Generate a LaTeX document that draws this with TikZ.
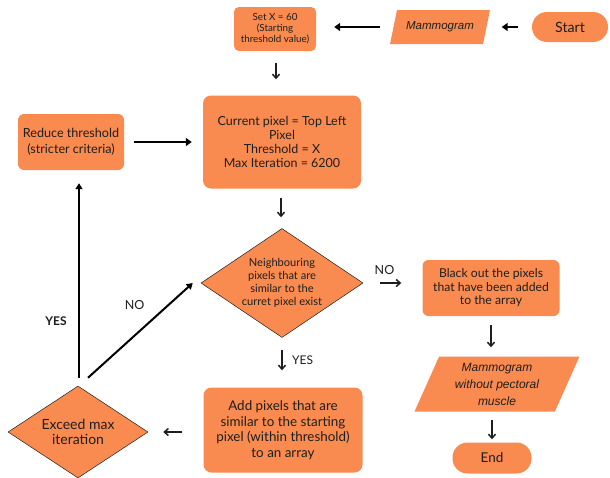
\documentclass[tikz,border=0pt]{standalone}
\usepackage{fontspec}
\setmainfont{Lato}
\newfontfamily\itfont{Liberation Sans}
\usetikzlibrary{shapes.geometric,arrows.meta}
\definecolor{boxorange}{HTML}{F98B50}
\definecolor{ink}{HTML}{1E1E1E}
\tikzset{
  proc/.style={fill=boxorange, rounded corners=6pt, inner sep=0pt, text=ink, align=center},
  pill/.style={fill=boxorange, rounded corners=15pt, inner sep=0pt, text=ink},
  io/.style={trapezium, trapezium left angle=68, trapezium right angle=112, trapezium stretches=true, fill=boxorange, inner sep=2pt, text=ink, align=center},
  dec/.style={diamond, fill=boxorange, draw=ink, line width=0.5pt, inner sep=1pt},
  lbl/.style={text=ink, align=center},
  bold arrow/.style={draw=black, line width=2.4pt, -{Triangle[length=6pt,width=8pt]}},
  thin arrow/.style={draw=ink, line width=1.5pt, -{Straight Barb[length=4pt,width=7pt]}},
  mid arrow/.style={draw=black, line width=2pt, -{Triangle[length=6pt,width=7pt]}},
}
\begin{document}
\begin{tikzpicture}[x=1pt,y=-1pt]
\useasboundingbox (0,0) rectangle (610,477);
\fill[white] (0,0) rectangle (610,477);

% nodes
\node[pill, minimum width=76pt, minimum height=30pt, font=\fontsize{14.2}{16}\selectfont] (start) at (570,27) {Start};
\node[io, minimum width=100pt, minimum height=34pt, font=\itfont\itshape\fontsize{11.5}{13}\selectfont] (mam1) at (440,27) {Mammogram};
\node[proc, rounded corners=5pt, minimum width=82pt, minimum height=44pt, font=\fontsize{9.8}{11}\selectfont] (setx) at (275,29) {Set X = 60\\(Starting\\threshold value)};
\node[proc, rounded corners=8pt, minimum width=158pt, minimum height=93pt, font=\fontsize{12.5}{14.2}\selectfont] (cur) at (282,142) {Current pixel = Top Left\\Pixel\\Threshold = X\\Max Iteration = 6200};
\node[proc, minimum width=106pt, minimum height=56pt, font=\fontsize{12.6}{15.5}\selectfont] (red) at (71,142) {Reduce threshold\\(stricter criteria)};
\node[dec, minimum width=162pt, minimum height=109pt] (d1) at (282,283) {};
\node[lbl, font=\fontsize{11.1}{13}\selectfont] (d1t) at (d1.center) {Neighbouring\\pixels that are\\similar to the\\curret pixel exist};
\node[proc, minimum width=137pt, minimum height=56pt, font=\fontsize{12.2}{13.5}\selectfont] (black) at (491,288) {Black out the pixels\\that have been added\\to the array};
\node[io, minimum width=165pt, minimum height=55pt, font=\itfont\itshape\fontsize{12}{17}\selectfont] (mam2) at (497,384) {Mammogram\\without pectoral\\muscle};
\node[pill, minimum width=79pt, minimum height=31pt, font=\fontsize{13.5}{15}\selectfont] (end) at (492,458) {End};
\node[proc, rounded corners=8pt, minimum width=159pt, minimum height=85pt, font=\fontsize{13.4}{15.5}\selectfont] (add) at (283,430) {Add pixels that are\\similar to the starting\\pixel (within threshold)\\to an array};
\node[dec, minimum width=140pt, minimum height=92pt] (exc) at (78,432) {};
\node[lbl, font=\fontsize{14}{15}\selectfont] (exct) at (exc.center) {Exceed max\\iteration};

% connectors
\draw[bold arrow, shorten <=14pt, shorten >=15pt] (start.west) -- (start.west -| mam1.east);
\draw[bold arrow, shorten <=13pt, shorten >=18pt] (mam1.west |- start.west) -- (setx.east |- start.west);
\draw[thin arrow, shorten <=12pt, shorten >=16pt] ([xshift=1pt]setx.south) -- ([xshift=1pt]setx.south |- cur.north);
\draw[bold arrow, shorten <=10pt, shorten >=11pt] (red.east) -- (cur.west);
\draw[thin arrow, shorten <=9pt, shorten >=11pt] ([xshift=-1pt]cur.south) -- ([xshift=-1pt]cur.south |- d1.north);
\draw[thin arrow, shorten <=17pt, shorten >=21pt] (d1.east) -- (d1.east -| black.west) node[pos=0.36, above=4pt, lbl, font=\fontsize{12.5}{14}\selectfont] (nolbl1) {NO};
\draw[thin arrow, shorten <=9pt, shorten >=9pt] (black.south) -- (black.south |- mam2.north);
\draw[thin arrow, shorten <=8pt, shorten >=3pt] (mam2.south -| end.north) -- (end.north);
\draw[thin arrow, shorten <=12pt, shorten >=17pt] (d1.south) -- (d1.south |- add.north) node[pos=0.45, right=6pt, lbl, font=\fontsize{12}{14}\selectfont] (yeslbl1) {YES};
\draw[thin arrow, shorten <=21pt, shorten >=15pt] (add.west |- exc.east) -- (exc.east);
\draw[mid arrow, shorten <=8pt, shorten >=13pt] ([xshift=1pt]exc.north) -- ([xshift=1pt]exc.north |- red.south) node[pos=0.3, left=8pt, lbl, font=\bfseries\fontsize{12}{14}\selectfont] (yeslbl2) {YES};
\draw[mid arrow] ([shift={(10pt,8pt)}]exc.north) -- ([xshift=-8pt]d1.west) node[pos=0.55, shift={(-11pt,21pt)}, lbl, font=\fontsize{12.5}{14}\selectfont] (nolbl2) {NO};
\end{tikzpicture}
\end{document}
